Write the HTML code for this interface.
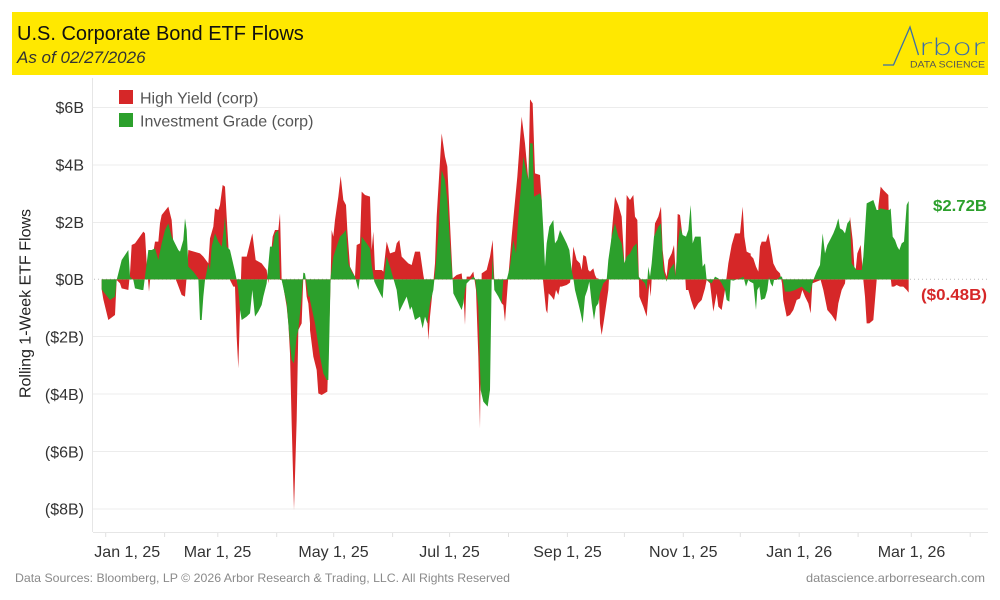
<!DOCTYPE html>
<html><head><meta charset="utf-8"><style>
html,body{margin:0;padding:0;background:#fff;}
svg{display:block;font-family:"Liberation Sans",Arial,sans-serif;}
</style></head><body>
<svg width="1000" height="600" viewBox="0 0 1000 600" xmlns="http://www.w3.org/2000/svg">
<rect x="0" y="0" width="1000" height="600" fill="#fff"/>
<!-- header -->
<rect x="12" y="12" width="976" height="63" fill="#FFE800"/>
<text x="17" y="40" font-size="20" fill="#111">U.S. Corporate Bond ETF Flows</text>
<text x="17" y="63" font-size="17" font-style="italic" fill="#333">As of 02/27/2026</text>
<!-- logo -->
<polyline points="883,65 893.5,65 910,27 918.5,55" fill="none" stroke="#3b6ea8" stroke-width="1.3"/>
<text x="919" y="55" font-family="'DejaVu Sans', sans-serif" font-weight="200" font-size="23" fill="#3b6ea8" textLength="66" lengthAdjust="spacingAndGlyphs">rbor</text>
<text x="910" y="67.5" font-size="9.5" fill="#555" textLength="75" lengthAdjust="spacingAndGlyphs">DATA SCIENCE</text>

<!-- gridlines -->
<g stroke="#ececec" stroke-width="1">
<line x1="93" y1="107.5" x2="988" y2="107.5"/>
<line x1="93" y1="165" x2="988" y2="165"/>
<line x1="93" y1="222.5" x2="988" y2="222.5"/>
<line x1="93" y1="336.5" x2="988" y2="336.5"/>
<line x1="93" y1="394" x2="988" y2="394"/>
<line x1="93" y1="451.5" x2="988" y2="451.5"/>
<line x1="93" y1="509" x2="988" y2="509"/>
</g>
<line x1="92.5" y1="78" x2="92.5" y2="532" stroke="#e6e6e6" stroke-width="1"/>
<line x1="93" y1="532.5" x2="988" y2="532.5" stroke="#e6e6e6" stroke-width="1"/>
<g stroke="#e0e0e0" stroke-width="1">
<line x1="105.7" y1="533" x2="105.7" y2="537"/>
<line x1="164.6" y1="533" x2="164.6" y2="537"/>
<line x1="217.8" y1="533" x2="217.8" y2="537"/>
<line x1="276.7" y1="533" x2="276.7" y2="537"/>
<line x1="333.7" y1="533" x2="333.7" y2="537"/>
<line x1="392.6" y1="533" x2="392.6" y2="537"/>
<line x1="449.6" y1="533" x2="449.6" y2="537"/>
<line x1="508.5" y1="533" x2="508.5" y2="537"/>
<line x1="567.4" y1="533" x2="567.4" y2="537"/>
<line x1="624.4" y1="533" x2="624.4" y2="537"/>
<line x1="683.3" y1="533" x2="683.3" y2="537"/>
<line x1="740.3" y1="533" x2="740.3" y2="537"/>
<line x1="799.2" y1="533" x2="799.2" y2="537"/>
<line x1="858.1" y1="533" x2="858.1" y2="537"/>
<line x1="911.3" y1="533" x2="911.3" y2="537"/>
<line x1="970.2" y1="533" x2="970.2" y2="537"/>
</g>
<!-- zero dotted line -->
<line x1="94" y1="279.3" x2="988" y2="279.3" stroke="#bbb" stroke-width="1" stroke-dasharray="1,3"/>

<!-- red series (High Yield) -->
<g fill="#D62728">
<g transform="translate(90,90) scale(0.333333)"><polygon points="35,568 35,598 40,628 55,690 75,675 80,570 90,580 95,595 115,600 120,550 125,465 135,460 160,425 165,430 170,520 177,605 185,520 195,455 205,455 210,400 215,375 235,350 245,390 250,460 258,570 262,580 275,615 285,620 290,560 295,480 330,490 340,500 355,520 360,445 370,410 375,355 385,360 390,345 398,285 405,290 410,380 415,465 420,570 430,590 435,590 440,740 445,835 450,660 455,500 470,500 487,430 497,510 515,520 530,540 535,580 548,440 555,420 565,420 570,370 575,570 580,590 590,650 595,700 600,790 605,1000 612,1260 620,990 625,720 635,700 640,560 645,560 650,620 655,640 660,700 662,700 662,568"/></g>
<g transform="translate(310,90) scale(0.333333)"><polygon points="0,568 0,720 10,800 20,840 25,910 35,915 52,905 58,700 62,565 65,420 70,440 75,390 85,320 92,258 100,330 108,345 112,420 120,530 135,560 140,465 150,460 155,305 165,315 180,320 185,480 190,425 195,540 215,540 220,545 225,500 230,455 240,490 255,485 260,460 268,450 275,500 295,520 305,525 315,485 330,485 340,555 348,600 355,750 360,680 368,600 375,520 380,380 395,130 405,200 412,230 420,400 428,565 440,555 455,550 460,600 465,705 470,560 480,560 490,545 498,600 505,800 510,1015 515,550 530,540 540,500 548,450 553,570 565,600 575,640 580,645 585,695 595,560 605,440 612,365 622,260 635,80 645,160 655,270 660,30 662,30 662,568"/></g>
<g transform="translate(530,90) scale(0.333333)"><polygon points="0,568 0,28 8,40 12,160 15,250 30,255 35,330 38,560 42,600 48,660 52,670 56,610 65,620 72,630 78,600 85,615 90,590 95,590 110,585 120,578 125,540 130,470 140,510 150,520 155,540 160,495 168,500 175,540 180,545 190,535 195,555 200,565 205,565 210,700 215,735 222,690 235,600 245,430 255,320 265,345 275,380 285,555 290,315 300,330 310,315 315,380 322,390 328,620 340,650 350,680 358,580 362,620 370,480 375,400 385,380 393,350 398,480 405,545 410,560 415,510 425,490 432,465 438,565 443,372 450,375 460,460 468,600 475,600 483,630 493,660 505,640 515,630 525,595 530,570 540,580 550,665 560,610 565,650 575,660 585,600 595,520 605,465 615,430 630,430 638,350 643,440 650,485 660,490 662,490 662,568"/></g>
<g transform="translate(750,90) scale(0.333333)"><polygon points="0,568 0,495 10,505 18,530 25,545 30,470 35,455 48,455 55,430 62,470 70,520 80,540 90,550 96,580 100,630 110,680 120,675 130,660 140,630 150,625 157,600 165,620 175,640 182,670 187,580 200,575 212,570 220,600 232,660 245,675 258,695 265,640 275,600 285,580 292,500 300,380 308,450 315,560 322,490 332,465 340,570 345,620 350,700 358,700 370,690 380,570 385,350 392,290 400,300 415,315 420,545 425,590 432,590 440,585 450,590 460,590 470,600 476,608 476,568"/></g>
</g>

<!-- green series (Investment Grade) -->
<g fill="#2CA02C">
<g transform="translate(90,90) scale(0.333333)"><polygon points="35,568 35,598 60,630 75,620 80,570 95,510 105,495 115,480 120,560 130,570 135,595 155,600 160,600 165,560 170,520 175,480 185,480 195,475 205,510 215,460 225,420 235,400 245,440 255,460 265,480 270,485 280,450 285,385 290,420 295,530 310,545 325,565 330,690 335,690 340,620 345,570 355,520 360,540 365,470 375,430 385,455 395,470 400,430 405,380 410,470 420,480 435,545 440,570 445,600 450,660 455,690 470,680 480,670 487,600 495,680 505,665 515,645 520,620 530,580 540,470 548,470 555,430 565,420 570,570 575,570 590,640 600,760 605,810 612,820 620,740 625,720 635,620 640,548 645,550 655,620 660,620 662,620 662,568"/></g>
<g transform="translate(310,90) scale(0.333333)"><polygon points="0,568 0,630 15,700 30,800 40,850 50,870 55,870 62,560 70,500 80,470 90,440 100,430 108,420 115,520 125,545 135,560 145,600 150,560 155,440 170,460 180,475 185,525 193,575 200,590 210,610 218,625 222,570 230,500 240,530 250,565 260,600 268,665 280,640 290,620 300,660 305,650 315,690 330,680 338,715 345,680 352,700 360,640 370,600 378,520 385,430 395,240 405,270 412,330 420,460 428,570 430,610 445,640 455,660 460,640 465,600 470,580 480,570 490,560 495,565 505,650 512,900 520,935 533,950 540,900 545,570 548,500 553,600 565,620 575,640 580,570 590,570 600,530 610,450 618,490 625,380 632,300 640,200 650,250 655,270 660,160 662,160 662,568"/></g>
<g transform="translate(530,90) scale(0.333333)"><polygon points="0,568 0,160 8,160 12,320 30,310 35,330 40,420 45,530 50,460 58,410 70,390 75,460 82,450 90,420 100,440 110,460 118,480 125,540 130,565 135,600 145,640 152,670 158,700 165,620 172,600 178,575 185,640 192,690 198,650 205,640 210,610 220,580 230,570 235,510 245,440 255,400 265,440 275,460 283,520 290,500 300,490 310,470 320,460 326,560 335,570 345,580 350,600 355,530 360,560 365,520 372,440 385,410 393,400 400,540 410,575 418,540 432,520 436,560 443,470 450,410 458,435 468,440 475,420 482,345 488,460 495,440 512,440 518,530 525,520 530,570 545,580 555,560 565,565 575,580 585,600 590,630 598,635 602,570 610,572 630,565 640,560 648,590 655,570 660,575 662,575 662,568"/></g>
<g transform="translate(750,90) scale(0.333333)"><polygon points="0,568 0,575 10,580 18,660 22,600 28,590 33,630 45,625 52,600 57,560 62,580 68,590 72,570 80,570 90,560 96,560 100,580 105,605 120,605 135,600 155,590 165,600 180,610 190,570 200,545 210,525 218,430 225,490 232,465 240,450 250,430 258,410 265,385 270,415 278,420 285,430 292,400 300,390 305,520 312,530 320,540 335,540 340,500 350,340 370,330 380,360 385,360 392,355 412,360 418,360 422,355 428,440 435,450 442,470 448,480 455,460 462,455 470,345 476,333 476,568"/></g>
</g>

<!-- legend -->
<rect x="119" y="90" width="14" height="14" fill="#D62728"/>
<rect x="119" y="113" width="14" height="14" fill="#2CA02C"/>
<text x="140" y="103.5" font-size="16" fill="#555">High Yield (corp)</text>
<text x="140" y="126.5" font-size="16" fill="#555">Investment Grade (corp)</text>

<!-- y axis labels -->
<g font-size="16" fill="#333" text-anchor="end">
<text x="84" y="113">$6B</text>
<text x="84" y="170.5">$4B</text>
<text x="84" y="228">$2B</text>
<text x="84" y="285">$0B</text>
<text x="84" y="342.5">($2B)</text>
<text x="84" y="400">($4B)</text>
<text x="84" y="457.5">($6B)</text>
<text x="84" y="514.5">($8B)</text>
</g>
<text transform="translate(30.5,303.5) rotate(-90)" text-anchor="middle" font-size="16" fill="#222">Rolling 1-Week ETF Flows</text>

<!-- x axis labels -->
<g font-size="16" fill="#333" text-anchor="middle">
<text x="94.3" y="557" text-anchor="start">Jan 1, 25</text>
<text x="217.5" y="557">Mar 1, 25</text>
<text x="333.5" y="557">May 1, 25</text>
<text x="449.5" y="557">Jul 1, 25</text>
<text x="567.5" y="557">Sep 1, 25</text>
<text x="683.3" y="557">Nov 1, 25</text>
<text x="799.2" y="557">Jan 1, 26</text>
<text x="911.5" y="557">Mar 1, 26</text>
</g>

<!-- end labels -->
<text x="987" y="211" font-size="16" font-weight="bold" fill="#2CA02C" text-anchor="end" textLength="54" lengthAdjust="spacingAndGlyphs">$2.72B</text>
<text x="987" y="300" font-size="16" font-weight="bold" fill="#D62728" text-anchor="end" textLength="66" lengthAdjust="spacingAndGlyphs">($0.48B)</text>

<!-- footer -->
<text x="15" y="582" font-size="12" fill="#8a8a8a" textLength="495" lengthAdjust="spacingAndGlyphs">Data Sources: Bloomberg, LP © 2026 Arbor Research &amp; Trading, LLC. All Rights Reserved</text>
<text x="985" y="582" font-size="12" fill="#8a8a8a" text-anchor="end" textLength="179" lengthAdjust="spacingAndGlyphs">datascience.arborresearch.com</text>
</svg>
</body></html>
